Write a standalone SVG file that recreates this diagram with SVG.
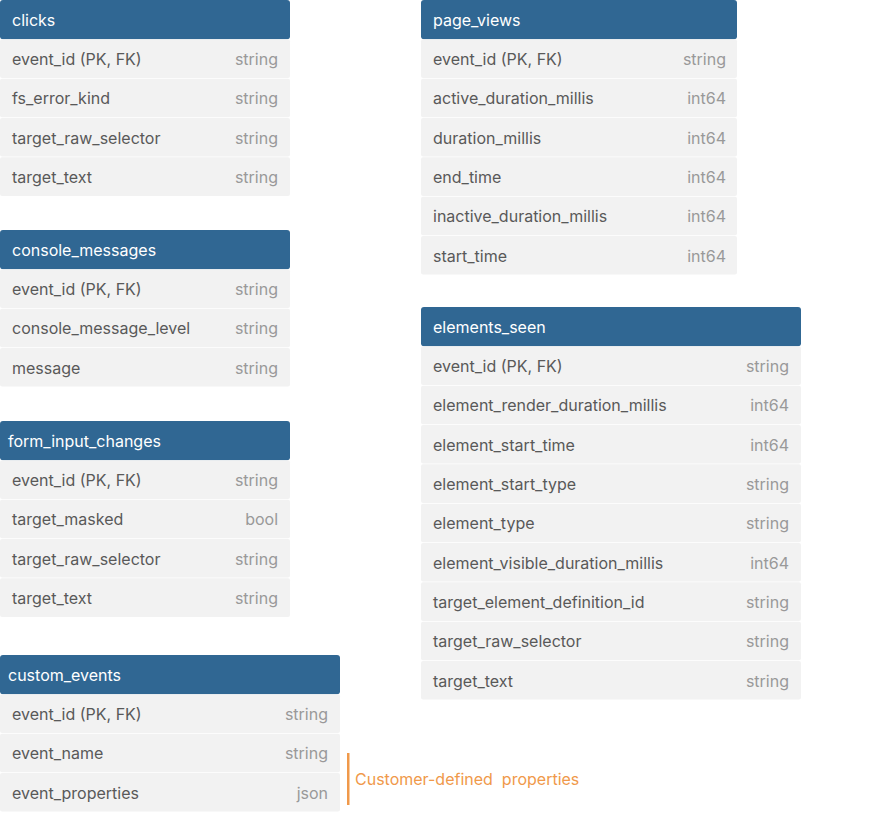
<svg xmlns="http://www.w3.org/2000/svg" width="882" height="813" viewBox="0 0 882 813">
<style>
.hd{fill:#306793}
.rw{fill:#f2f2f2}
.ht{font-family:Inter,"Noto Sans","DejaVu Sans",sans-serif;font-size:16px;fill:#ffffff}
.nm{font-family:Inter,"Noto Sans","DejaVu Sans",sans-serif;font-size:16px;fill:#595959}
.tp{font-family:Inter,"Noto Sans","DejaVu Sans",sans-serif;font-size:16px;fill:#999999;text-anchor:end}
.note{font-family:Inter,"Noto Sans","DejaVu Sans",sans-serif;font-size:16px;fill:#f0994a;white-space:pre}
</style>
<rect width="882" height="813" fill="#ffffff"/>
<g id="clicks">
<rect class="hd" x="0" y="0" width="290" height="39.3" rx="3"/>
<text class="ht" x="12" y="26">clicks</text>
<rect class="rw" x="0" y="39.33" width="290" height="38.6" rx="2"/>
<rect class="rw" x="0" y="78.67" width="290" height="38.6" rx="2"/>
<rect class="rw" x="0" y="118" width="290" height="38.6" rx="2"/>
<rect class="rw" x="0" y="157.33" width="290" height="38.6" rx="2"/>
<text class="nm" x="12" y="65">event_id (PK, FK)</text><text class="tp" x="278" y="65">string</text>
<text class="nm" x="12" y="104.3">fs_error_kind</text><text class="tp" x="278" y="104.3">string</text>
<text class="nm" x="12" y="143.7">target_raw_selector</text><text class="tp" x="278" y="143.7">string</text>
<text class="nm" x="12" y="183">target_text</text><text class="tp" x="278" y="183">string</text>
</g>
<g id="console_messages">
<rect class="hd" x="0" y="230" width="290" height="39.3" rx="3"/>
<text class="ht" x="12" y="256">console_messages</text>
<rect class="rw" x="0" y="269.33" width="290" height="38.6" rx="2"/>
<rect class="rw" x="0" y="308.67" width="290" height="38.6" rx="2"/>
<rect class="rw" x="0" y="348" width="290" height="38.6" rx="2"/>
<text class="nm" x="12" y="295">event_id (PK, FK)</text><text class="tp" x="278" y="295">string</text>
<text class="nm" x="12" y="334.3">console_message_level</text><text class="tp" x="278" y="334.3">string</text>
<text class="nm" x="12" y="373.7">message</text><text class="tp" x="278" y="373.7">string</text>
</g>
<g id="form_input_changes">
<rect class="hd" x="0" y="421" width="290" height="39.3" rx="3"/>
<text class="ht" x="8" y="447">form_input_changes</text>
<rect class="rw" x="0" y="460.33" width="290" height="38.6" rx="2"/>
<rect class="rw" x="0" y="499.67" width="290" height="38.6" rx="2"/>
<rect class="rw" x="0" y="539" width="290" height="38.6" rx="2"/>
<rect class="rw" x="0" y="578.33" width="290" height="38.6" rx="2"/>
<text class="nm" x="12" y="486">event_id (PK, FK)</text><text class="tp" x="278" y="486">string</text>
<text class="nm" x="12" y="525.3">target_masked</text><text class="tp" x="278" y="525.3">bool</text>
<text class="nm" x="12" y="564.7">target_raw_selector</text><text class="tp" x="278" y="564.7">string</text>
<text class="nm" x="12" y="604">target_text</text><text class="tp" x="278" y="604">string</text>
</g>
<g id="custom_events">
<rect class="hd" x="0" y="655" width="340" height="39.3" rx="3"/>
<text class="ht" x="8" y="681">custom_events</text>
<rect class="rw" x="0" y="694.33" width="340" height="38.6" rx="2"/>
<rect class="rw" x="0" y="733.67" width="340" height="38.6" rx="2"/>
<rect class="rw" x="0" y="773" width="340" height="38.6" rx="2"/>
<text class="nm" x="12" y="720">event_id (PK, FK)</text><text class="tp" x="328" y="720">string</text>
<text class="nm" x="12" y="759.3">event_name</text><text class="tp" x="328" y="759.3">string</text>
<text class="nm" x="12" y="798.7">event_properties</text><text class="tp" x="328" y="798.7">json</text>
</g>
<g id="page_views">
<rect class="hd" x="421" y="0" width="316" height="39.3" rx="3"/>
<text class="ht" x="433" y="26">page_views</text>
<rect class="rw" x="421" y="39.33" width="316" height="38.6" rx="2"/>
<rect class="rw" x="421" y="78.67" width="316" height="38.6" rx="2"/>
<rect class="rw" x="421" y="118" width="316" height="38.6" rx="2"/>
<rect class="rw" x="421" y="157.33" width="316" height="38.6" rx="2"/>
<rect class="rw" x="421" y="196.67" width="316" height="38.6" rx="2"/>
<rect class="rw" x="421" y="236" width="316" height="38.6" rx="2"/>
<text class="nm" x="433" y="65">event_id (PK, FK)</text><text class="tp" x="726" y="65">string</text>
<text class="nm" x="433" y="104.3">active_duration_millis</text><text class="tp" x="726" y="104.3">int64</text>
<text class="nm" x="433" y="143.7">duration_millis</text><text class="tp" x="726" y="143.7">int64</text>
<text class="nm" x="433" y="183">end_time</text><text class="tp" x="726" y="183">int64</text>
<text class="nm" x="433" y="222.3">inactive_duration_millis</text><text class="tp" x="726" y="222.3">int64</text>
<text class="nm" x="433" y="261.7">start_time</text><text class="tp" x="726" y="261.7">int64</text>
</g>
<g id="elements_seen">
<rect class="hd" x="421" y="307" width="380" height="39.3" rx="3"/>
<text class="ht" x="433" y="333">elements_seen</text>
<rect class="rw" x="421" y="346.33" width="380" height="38.6" rx="2"/>
<rect class="rw" x="421" y="385.67" width="380" height="38.6" rx="2"/>
<rect class="rw" x="421" y="425" width="380" height="38.6" rx="2"/>
<rect class="rw" x="421" y="464.33" width="380" height="38.6" rx="2"/>
<rect class="rw" x="421" y="503.67" width="380" height="38.6" rx="2"/>
<rect class="rw" x="421" y="543" width="380" height="38.6" rx="2"/>
<rect class="rw" x="421" y="582.33" width="380" height="38.6" rx="2"/>
<rect class="rw" x="421" y="621.67" width="380" height="38.6" rx="2"/>
<rect class="rw" x="421" y="661" width="380" height="38.6" rx="2"/>
<text class="nm" x="433" y="372">event_id (PK, FK)</text><text class="tp" x="789" y="372">string</text>
<text class="nm" x="433" y="411.3">element_render_duration_millis</text><text class="tp" x="789" y="411.3">int64</text>
<text class="nm" x="433" y="450.7">element_start_time</text><text class="tp" x="789" y="450.7">int64</text>
<text class="nm" x="433" y="490">element_start_type</text><text class="tp" x="789" y="490">string</text>
<text class="nm" x="433" y="529.3">element_type</text><text class="tp" x="789" y="529.3">string</text>
<text class="nm" x="433" y="568.7">element_visible_duration_millis</text><text class="tp" x="789" y="568.7">int64</text>
<text class="nm" x="433" y="608">target_element_definition_id</text><text class="tp" x="789" y="608">string</text>
<text class="nm" x="433" y="647.3">target_raw_selector</text><text class="tp" x="789" y="647.3">string</text>
<text class="nm" x="433" y="686.7">target_text</text><text class="tp" x="789" y="686.7">string</text>
</g>
<g id="annotation">
<rect x="347" y="753" width="2.5" height="52" fill="#f0994a"/>
<text class="note" x="355" y="785">Customer-defined  properties</text>
</g>
<g id="connectors"></g>
</svg>
